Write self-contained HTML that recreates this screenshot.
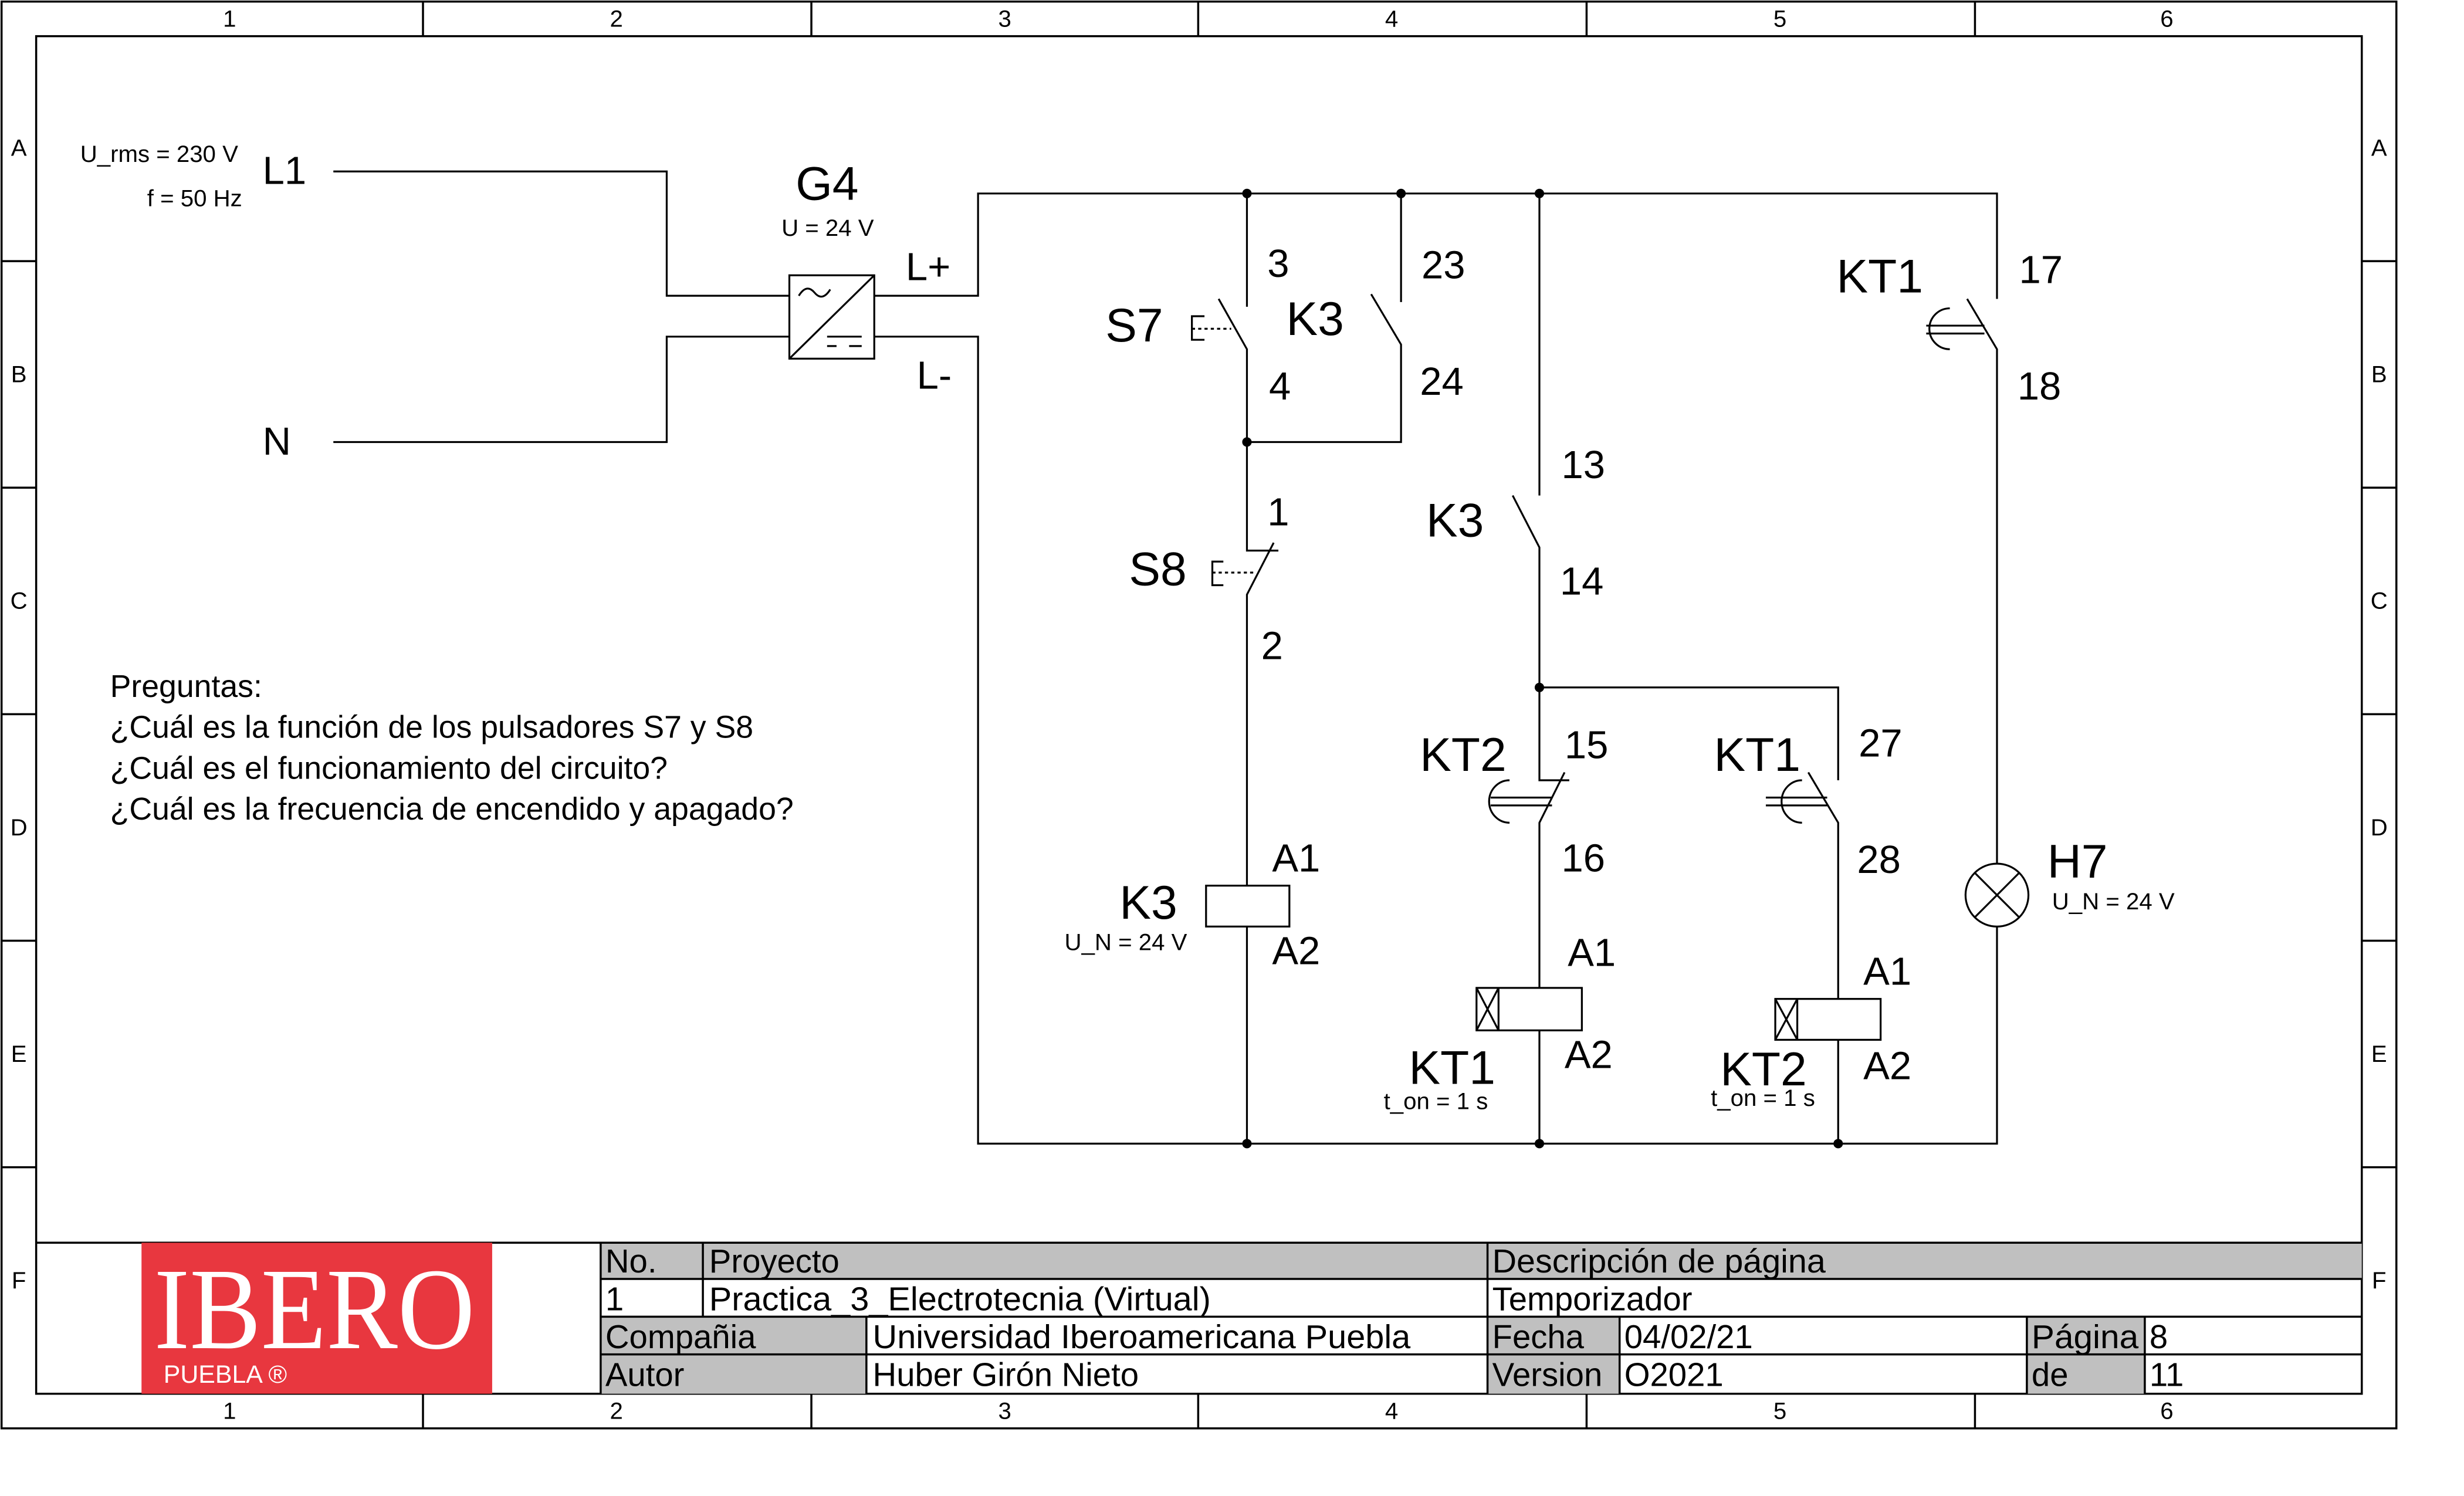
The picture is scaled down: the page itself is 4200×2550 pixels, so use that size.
<!DOCTYPE html>
<html><head><meta charset="utf-8"><style>
html,body{margin:0;padding:0;background:#fff;}
svg{display:block;}
text{font-family:"Liberation Sans Narrow","Liberation Sans",sans-serif;fill:#000;}
</style></head><body>
<svg width="4200" height="2550" viewBox="0 0 1567 951" preserveAspectRatio="none" xmlns="http://www.w3.org/2000/svg">
<rect width="1567" height="951" fill="#fff"/>
<!-- frame -->
<g stroke="#000" fill="none" stroke-width="1.3">
<rect x="1" y="1" width="1523" height="907"/>
<rect x="23" y="23" width="1479" height="863"/>
<path d="M269 1V23M516 1V23M762 1V23M1009 1V23M1256 1V23M269 886V908M516 886V908M762 886V908M1009 886V908M1256 886V908"/>
<path d="M1 166H23M1 310H23M1 454H23M1 598H23M1 742H23M1502 166H1524M1502 310H1524M1502 454H1524M1502 598H1524M1502 742H1524"/>
</g>
<g font-size="15" text-anchor="middle">
<text x="146" y="17">1</text><text x="392" y="17">2</text><text x="639" y="17">3</text><text x="885" y="17">4</text><text x="1132" y="17">5</text><text x="1378" y="17">6</text>
<text x="146" y="902">1</text><text x="392" y="902">2</text><text x="639" y="902">3</text><text x="885" y="902">4</text><text x="1132" y="902">5</text><text x="1378" y="902">6</text>
<text x="12" y="99">A</text><text x="12" y="243">B</text><text x="12" y="387">C</text><text x="12" y="531">D</text><text x="12" y="675">E</text><text x="12" y="819">F</text>
<text x="1513" y="99">A</text><text x="1513" y="243">B</text><text x="1513" y="387">C</text><text x="1513" y="531">D</text><text x="1513" y="675">E</text><text x="1513" y="819">F</text>
</g>
<!-- title block -->
<rect x="382" y="790" width="1120" height="23" fill="#c0c0c0"/>
<rect x="382" y="837" width="169" height="49" fill="#c0c0c0"/>
<rect x="946" y="837" width="84" height="49" fill="#c0c0c0"/>
<rect x="1289" y="837" width="75" height="49" fill="#c0c0c0"/>
<g stroke="#000" stroke-width="1.3" fill="none">
<path d="M23 790H1502M382 813H1502M382 837H1502M382 861H1502M382 790V886M447 790V837M946 790V886M551 837V886M1030 837V886M1289 837V886M1364 837V886"/>
</g>
<rect x="90" y="790" width="223" height="96" fill="#e8373f"/>
<text x="98" y="857" font-family="Liberation Serif,serif" font-size="74" fill="#fff" style="fill:#fff;font-family:'Liberation Serif',serif" textLength="204" lengthAdjust="spacingAndGlyphs">IBERO</text>
<text x="104" y="879" font-size="16" style="fill:#fff">PUEBLA ®</text>
<g font-size="21">
<text x="385" y="809">No.</text><text x="451" y="809">Proyecto</text><text x="949" y="809" textLength="212" lengthAdjust="spacingAndGlyphs">Descripción de página</text>
<text x="385" y="833">1</text><text x="451" y="833" textLength="319" lengthAdjust="spacingAndGlyphs">Practica_3_Electrotecnia (Virtual)</text><text x="949" y="833">Temporizador</text>
<text x="385" y="857">Compañia</text><text x="555" y="857" textLength="342" lengthAdjust="spacingAndGlyphs">Universidad Iberoamericana Puebla</text><text x="949" y="857">Fecha</text><text x="1033" y="857">04/02/21</text><text x="1292" y="857" textLength="68" lengthAdjust="spacingAndGlyphs">Página</text><text x="1367" y="857">8</text>
<text x="385" y="881">Autor</text><text x="555" y="881">Huber Girón Nieto</text><text x="949" y="881">Version</text><text x="1033" y="881">O2021</text><text x="1292" y="881">de</text><text x="1367" y="881">11</text>
</g>
<!-- circuit -->
<g stroke="#000" stroke-width="1.2" fill="none">
<path d="M212 109H424V188H502M212 281H424V214H502"/>
<rect x="502" y="175" width="54" height="53"/>
<path d="M502 228L556 175M526 214H548M526 220H532M540 220H548"/>
<path d="M508 188Q513 180 518 186Q523 192 528 184"/>
<path d="M556 188H622V123H1270V190M556 214H622V727H1270V589"/>
<!-- S7 / K3 parallel -->
<path d="M793 123V195M775 190L793 222V281H891V219L872 187M891 123V192"/>
<path d="M766 201H758V216H766"/><path d="M758 209H783" stroke-dasharray="2,2"/>
<!-- S8 -->
<path d="M793 281V350H813M810 345L793 378V563M793 589V727"/>
<path d="M778 357H771V372H778"/><path d="M771 364H799" stroke-dasharray="2,2"/>
<rect x="767" y="563" width="53" height="26"/>
<!-- K3 13-14 -->
<path d="M979 123V315M962 315L979 348V496H998M995 491L979 523V628M979 655V727"/>
<path d="M979 437H1169V496M1150 491L1169 523V635M1169 661V727"/>
<path d="M960 496A13 13.5 0 0 0 960 523M948 507H987M948 512H987"/>
<path d="M1146 496A13 13.5 0 0 0 1146 523M1123 507H1162M1123 512H1162"/>
<rect x="939" y="628" width="67" height="27"/><path d="M953 628V655M939 628L953 655M953 628L939 655"/>
<rect x="1129" y="635" width="67" height="26"/><path d="M1143 635V661M1129 635L1143 661M1143 635L1129 661"/>
<!-- KT1 17-18 + lamp -->
<path d="M1251 190L1270 222V549"/>
<path d="M1240 196A13 13 0 0 0 1240 222M1225 207H1262M1225 212H1262"/>
<circle cx="1270" cy="569" r="20"/>
<path d="M1256 555L1284 583M1284 555L1256 583"/>
</g>
<g fill="#000">
<circle cx="793" cy="123" r="3"/><circle cx="891" cy="123" r="3"/><circle cx="979" cy="123" r="3"/><circle cx="793" cy="281" r="3"/><circle cx="979" cy="437" r="3"/><circle cx="793" cy="727" r="3"/><circle cx="979" cy="727" r="3"/><circle cx="1169" cy="727" r="3"/>
</g>
<g font-size="15">
<text x="51" y="103">U_rms = 230 V</text><text x="154" y="131" text-anchor="end">f = 50 Hz</text>
<text x="497" y="150">U = 24 V</text>
<text x="677" y="604">U_N = 24 V</text>
<text x="880" y="705">t_on = 1 s</text>
<text x="1088" y="703">t_on = 1 s</text>
<text x="1305" y="578">U_N = 24 V</text>
</g>
<g font-size="25">
<text x="167" y="117">L1</text><text x="167" y="289">N</text>
<text x="576" y="178">L+</text><text x="583" y="247">L-</text>
<text x="806" y="176">3</text><text x="807" y="254">4</text><text x="904" y="177">23</text><text x="903" y="251">24</text>
<text x="806" y="334">1</text><text x="802" y="419">2</text>
<text x="993" y="304">13</text><text x="992" y="378">14</text>
<text x="995" y="482">15</text><text x="993" y="554">16</text>
<text x="1182" y="481">27</text><text x="1181" y="555">28</text>
<text x="1284" y="180">17</text><text x="1283" y="254">18</text>
<text x="809" y="554">A1</text><text x="809" y="613">A2</text>
<text x="997" y="614">A1</text><text x="995" y="679">A2</text>
<text x="1185" y="626">A1</text><text x="1185" y="686">A2</text>
</g>
<g font-size="30">
<text x="506" y="127">G4</text>
<text x="703" y="217">S7</text><text x="818" y="213">K3</text>
<text x="718" y="372">S8</text>
<text x="907" y="341">K3</text>
<text x="903" y="490">KT2</text><text x="1090" y="490">KT1</text>
<text x="1168" y="186">KT1</text>
<text x="712" y="584">K3</text>
<text x="896" y="689">KT1</text><text x="1094" y="690">KT2</text>
<text x="1302" y="558">H7</text>
</g>
<g font-size="20" style="font-family:'Liberation Sans',sans-serif">
<text x="70" y="443">Preguntas:</text>
<text x="70" y="469">¿Cuál es la función de los pulsadores S7 y S8</text>
<text x="70" y="495">¿Cuál es el funcionamiento del circuito?</text>
<text x="70" y="521">¿Cuál es la frecuencia de encendido y apagado?</text>
</g>
</svg>
</body></html>
